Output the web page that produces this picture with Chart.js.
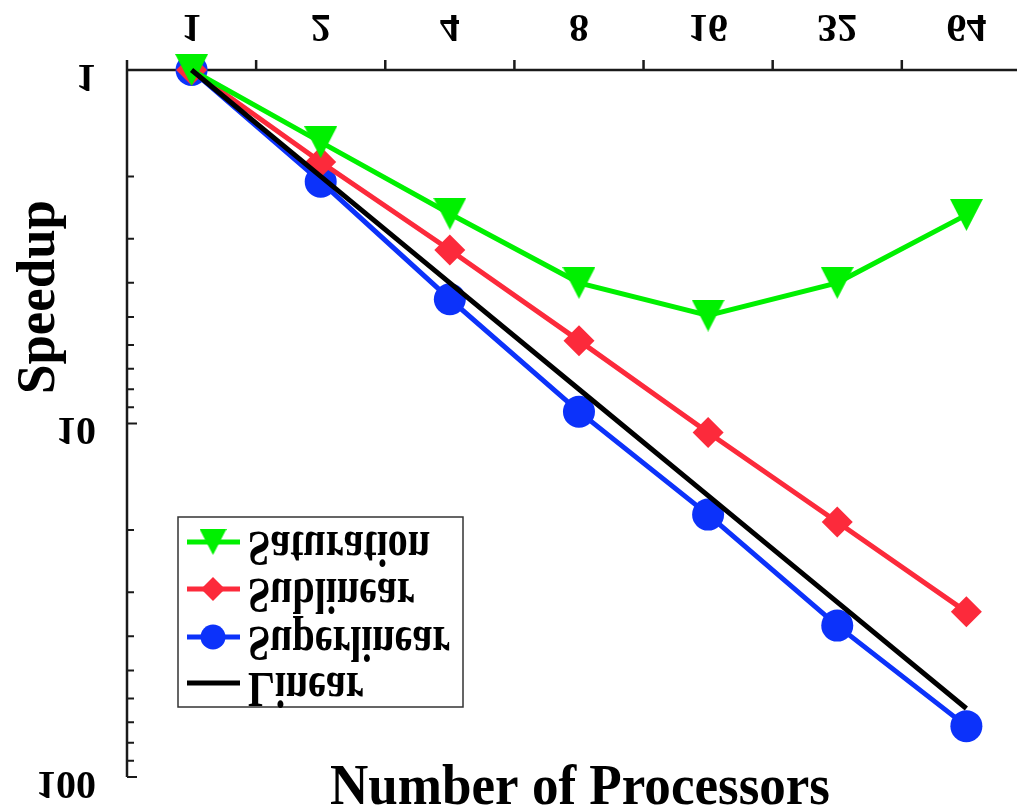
<!DOCTYPE html>
<html>
<head>
<meta charset="utf-8">
<script src="https://cdn.jsdelivr.net/npm/chart.js@4.4.0/dist/chart.umd.min.js"></script>
<style>
  html, body { margin: 0; padding: 0; background: #fff; overflow: hidden; }
  canvas { display: block; }
</style>
</head>
<body>
<canvas id="speedupChart" width="1017" height="808"></canvas>
<script>
// data
const processors = ['1', '2', '4', '8', '16', '32', '64'];
const saturation = [1, 1.6, 2.55, 4.0, 4.95, 4.0, 2.57];
const sublinear = [1, 1.82, 3.23, 5.83, 10.6, 19.0, 34.1];
const superlinear = [1, 2.07, 4.45, 9.26, 18.1, 37.3, 71.8];
const linear = [1, 2, 4, 8, 16, 32, 64];
const yTickLabels = ['1', '10', '100'];

const green = '#00f000';
const red = '#fc2a3b';
const blue = '#0c32fa';
const serif = '"Liberation Serif", "Times New Roman", serif';

// x is the position of the processor count on the axis (0 .. 6)
function points(values) {
  return values.map((v, i) => ({ x: i, y: v }));
}

// down pointing triangle as image so it is centred on its box
function makeTriangle(color, w, h) {
  const c = document.createElement('canvas');
  c.width = w; c.height = h;
  const g = c.getContext('2d');
  g.fillStyle = color;
  g.beginPath();
  g.moveTo(0, 0);
  g.lineTo(w, 0);
  g.lineTo(w / 2, h);
  g.closePath();
  g.fill();
  return c;
}
const bigTriangle = makeTriangle(green, 33, 32);
const smallTriangle = makeTriangle(green, 27, 26);

function flippedText(ctx, text, x, y, size, sx, align) {
  ctx.save();
  ctx.translate(x, y);
  ctx.scale(sx, -1);
  ctx.font = 'bold ' + size + 'px ' + serif;
  ctx.textAlign = align;
  ctx.textBaseline = 'middle';
  ctx.fillStyle = '#000';
  ctx.fillText(text, 0, 0);
  ctx.restore();
}

function fittedText(ctx, text, x, y, size, width, angle) {
  ctx.save();
  ctx.translate(x, y);
  ctx.rotate(angle);
  ctx.font = 'bold ' + size + 'px ' + serif;
  const sx = width / ctx.measureText(text).width;
  ctx.scale(sx, 1);
  ctx.textAlign = 'center';
  ctx.textBaseline = 'alphabetic';
  ctx.fillStyle = '#000';
  ctx.fillText(text, 0, 0);
  ctx.restore();
}

const axesPlugin = {
  id: 'flippedAxes',
  beforeDatasetsDraw(chart) {
    const ctx = chart.ctx;
    const area = chart.chartArea;
    const xs = chart.scales.x;
    const ys = chart.scales.y;
    ctx.save();
    ctx.strokeStyle = '#1a1a1a';
    ctx.lineWidth = 2.5;
    ctx.beginPath();
    ctx.moveTo(area.left, area.top);
    ctx.lineTo(area.right, area.top);
    ctx.moveTo(area.left, area.top - 1);
    ctx.lineTo(area.left, area.bottom);
    // x ticks sit between the processor counts
    processors.forEach((p, i) => {
      const px = xs.getPixelForValue(i - 0.5);
      ctx.moveTo(px, area.top);
      ctx.lineTo(px, area.top - 10);
    });
    ctx.stroke();
    // y ticks, log scale
    ctx.lineWidth = 2;
    ctx.beginPath();
    [1, 10].forEach(d => {
      for (let m = 1; m <= 9; m++) {
        const py = ys.getPixelForValue(d * m);
        ctx.moveTo(area.left, py);
        ctx.lineTo(area.left + (m === 1 ? 10 : 7), py);
      }
    });
    const pb = ys.getPixelForValue(100);
    ctx.moveTo(area.left, pb);
    ctx.lineTo(area.left + 10, pb);
    ctx.stroke();
    ctx.restore();
  },
  afterDraw(chart) {
    const ctx = chart.ctx;
    const xs = chart.scales.x;
    const ys = chart.scales.y;
    processors.forEach((p, i) => {
      flippedText(ctx, p, xs.getPixelForValue(i), 25, 40, 1, 'center');
    });
    yTickLabels.forEach(t => {
      flippedText(ctx, t, 96, ys.getPixelForValue(Number(t)) + 5, 40, 1, 'right');
    });
    fittedText(ctx, 'Number of Processors', 580, 804, 56, 500, 0);
    fittedText(ctx, 'Speedup', 54, 297, 54, 194, -Math.PI / 2);

    // legend
    ctx.save();
    ctx.fillStyle = '#fff';
    ctx.fillRect(178, 517, 285, 190);
    ctx.strokeStyle = '#333';
    ctx.lineWidth = 1.5;
    ctx.strokeRect(178, 517, 285, 190);
    const rows = [542, 589, 637, 683];
    ctx.font = 'bold 50px ' + serif;
    const sx = 202 / ctx.measureText('Superlinear').width;
    chart.data.datasets.forEach((ds, r) => {
      const y = rows[r];
      ctx.strokeStyle = ds.borderColor;
      ctx.lineWidth = 5;
      ctx.beginPath();
      ctx.moveTo(187, y);
      ctx.lineTo(240, y);
      ctx.stroke();
      ctx.fillStyle = ds.borderColor;
      if (ds.label === 'Saturation') {
        ctx.drawImage(smallTriangle, 213 - 13.5, y - 13);
      } else if (ds.label === 'Sublinear') {
        ctx.beginPath();
        ctx.moveTo(213, y - 12);
        ctx.lineTo(225, y);
        ctx.lineTo(213, y + 12);
        ctx.lineTo(201, y);
        ctx.closePath();
        ctx.fill();
      } else if (ds.label === 'Superlinear') {
        ctx.beginPath();
        ctx.arc(213, y, 12.5, 0, Math.PI * 2);
        ctx.fill();
      }
      flippedText(ctx, ds.label, 248, y + 3, 50, sx, 'left');
    });
    ctx.restore();
  }
};

new Chart(document.getElementById('speedupChart'), {
  type: 'line',
  data: {
    datasets: [
      {
        label: 'Saturation',
        data: points(saturation),
        borderColor: green,
        backgroundColor: green,
        borderWidth: 5,
        pointStyle: bigTriangle,
        order: 1
      },
      {
        label: 'Sublinear',
        data: points(sublinear),
        borderColor: red,
        backgroundColor: red,
        borderWidth: 5,
        pointStyle: 'rectRot',
        pointRadius: 15.5,
        pointBorderWidth: 0,
        order: 2
      },
      {
        label: 'Superlinear',
        data: points(superlinear),
        borderColor: blue,
        backgroundColor: blue,
        borderWidth: 5,
        pointStyle: 'circle',
        pointRadius: 16,
        pointBorderWidth: 0,
        order: 3
      },
      {
        label: 'Linear',
        data: points(linear),
        borderColor: '#000',
        backgroundColor: '#000',
        borderWidth: 5,
        pointRadius: 0,
        order: 0
      }
    ]
  },
  options: {
    responsive: false,
    animation: false,
    events: [],
    layout: { autoPadding: false, padding: { left: 127, top: 70, right: 0, bottom: 31 } },
    elements: { line: { tension: 0, borderCapStyle: 'butt' } },
    datasets: { line: { clip: false } },
    scales: {
      x: { display: false, type: 'linear', min: -0.5, max: 6.392, ticks: { display: false } },
      y: { display: false, type: 'logarithmic', reverse: true, min: 1, max: 100, ticks: { display: false } }
    },
    plugins: {
      legend: { display: false },
      tooltip: { enabled: false }
    }
  },
  plugins: [axesPlugin]
});
</script>
</body>
</html>
